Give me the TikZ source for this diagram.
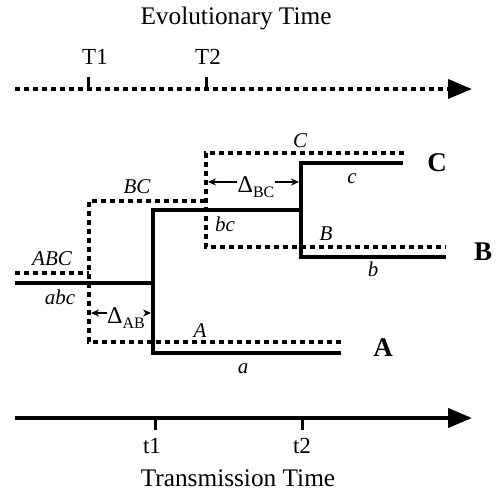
\documentclass[tikz,border=0pt]{standalone}
\usepackage{fontspec}
\setmainfont{Liberation Serif}
\usetikzlibrary{arrows.meta}
\begin{document}
\begin{tikzpicture}[x=1pt,y=-1pt,
  solidln/.style={line width=4pt, line join=miter},
  dotln/.style={line width=3.8pt, dash pattern=on 5pt off 4pt, line join=miter},
  tickln/.style={line width=3pt},
  lab/.style={font=\fontsize{21}{21}\selectfont\itshape, inner sep=0pt},
  big/.style={font=\fontsize{27}{27}\selectfont\bfseries, inner sep=0pt},
  ttl/.style={font=\fontsize{25.3}{25.3}\selectfont, inner sep=0pt},
  tlab/.style={font=\fontsize{23}{23}\selectfont, inner sep=0pt},
  dlab/.style={font=\fontsize{24}{24}\selectfont, inner sep=0pt},
  darr/.style={line width=1.2pt, -{Stealth[length=8pt,width=7pt]}},
  bigarrow/.style={-{Triangle[length=24pt,width=19pt]}}]
\useasboundingbox (0,0) rectangle (497,493);

% ---- Evolutionary time axis ----
\node[ttl] (etitle) at (236,18) {Evolutionary Time};
\coordinate (es) at (15,89);
\coordinate (ee) at (472,89);
\draw[dotln, bigarrow] (es) -- (ee);
\coordinate (T1b) at (88,89); \coordinate (T1t) at (88,77);
\coordinate (T2b) at (206,89); \coordinate (T2t) at (206,77);
\draw[tickln] (T1b) -- (T1t);
\draw[tickln] (T2b) -- (T2t);
\node[tlab] (T1) at (95,57) {T1};
\node[tlab] (T2) at (208,57) {T2};

% ---- Transmission time axis ----
\coordinate (ts) at (15,418);
\coordinate (te) at (472,418);
\draw[solidln, bigarrow] (ts) -- (te);
\coordinate (t1a) at (155,418); \coordinate (t1b) at (155,430);
\coordinate (t2a) at (302,418); \coordinate (t2b) at (302,430);
\draw[tickln] (t1a) -- (t1b);
\draw[tickln] (t2a) -- (t2b);
\node[tlab] (t1) at (152,446) {t1};
\node[tlab] (t2) at (302,446) {t2};
\node[ttl] (ttitle) at (238,478) {Transmission Time};

% ---- transmission tree (solid) ----
\coordinate (r0) at (15,283);
\coordinate (n1) at (153,283);
\coordinate (n1t) at (153,210);
\coordinate (n1b) at (153,353);
\coordinate (n2) at (301,210);
\coordinate (n2t) at (301,163);
\coordinate (n2b) at (301,257);
\coordinate (cEnd) at (403,163);
\coordinate (bEnd) at (446,257);
\coordinate (aEnd) at (341,353);
\draw[solidln] (r0) -- (n1);
\draw[solidln] (aEnd) -- (n1b) -- (n1t) -- (n2);
\draw[solidln] (cEnd) -- (n2t) -- (n2b) -- (bEnd);

% ---- gene tree (dotted) ----
\coordinate (d0) at (15,273);
\coordinate (d1) at (89,273);
\coordinate (d1t) at (89,201);
\coordinate (d1b) at (89,342);
\coordinate (d2) at (206,201);
\coordinate (d2t) at (206,153);
\coordinate (d2b) at (206,247);
\coordinate (CdEnd) at (404,153);
\coordinate (BdEnd) at (446,247);
\coordinate (AdEnd) at (341,342);
\draw[dotln] (d0) -- (d1);
\draw[dotln] (AdEnd) -- (d1b) -- (d1t) -- (d2);
\draw[dotln] (CdEnd) -- (d2t) -- (d2b) -- (BdEnd);

% ---- branch labels ----
\node[lab] (lABC) at (52,259) {ABC};
\node[lab] (labc) at (60,297) {abc};
\node[lab] (lBC) at (137,187) {BC};
\node[lab] (lbc) at (225,224) {bc};
\node[lab] (lC) at (300,141) {C};
\node[lab] (lc) at (352,179) {c};
\node[lab] (lB) at (326,234) {B};
\node[lab] (lb) at (373,269) {b};
\node[lab] (lA) at (200,331) {A};
\node[lab] (la) at (243,369) {a};

% ---- taxa ----
\node[big] (bC) at (437,163) {C};
\node[big] (bB) at (483,252) {B};
\node[big] (bA) at (383,348) {A};

% ---- delays ----
\node[dlab] (dAB) at (126,318) {Δ\raisebox{-5pt}{\fontsize{16}{16}\selectfont AB}};
\coordinate (dABl) at (91,313);
\coordinate (dABr) at (151,313);
\draw[darr] (dAB.west |- dABl) -- (dABl);
\draw[darr] (dAB.east |- dABr) -- (dABr);

\node[dlab] (dBC) at (256,187) {Δ\raisebox{-5pt}{\fontsize{16}{16}\selectfont BC}};
\coordinate (dBCl) at (208,182);
\coordinate (dBCr) at (299,182);
\draw[darr] (dBC.west |- dBCl) -- (dBCl);
\draw[darr] (dBC.east |- dBCr) -- (dBCr);
\end{tikzpicture}
\end{document}
